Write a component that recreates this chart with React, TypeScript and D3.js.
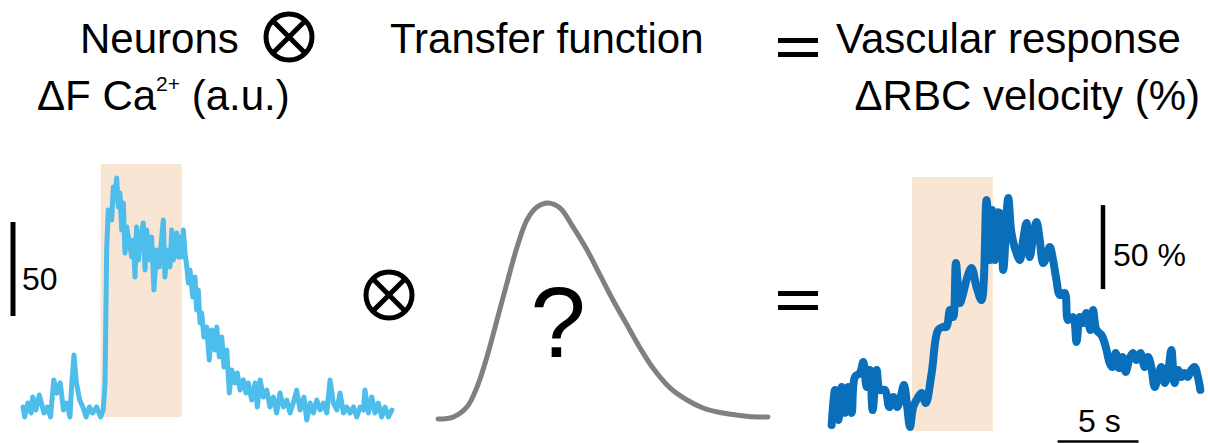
import React from "react";
import * as d3 from "d3";

// neuronal calcium trace, time in s relative to stimulus onset
const neuronTime = [
  -4.8, -4.7, -4.5, -4.3, -4.2, -4.0, -3.8, -3.5, -3.3, -3.1, -2.9, -2.7, -2.5, -2.3, -2.1, -1.9, -1.8, -1.65, -1.5,
  -1.3, -1.1, -0.9, -0.7, -0.5, -0.25, 0, 0.16, 0.27, 0.37, 0.47, 0.68, 0.78, 0.88, 0.99, 1.09, 1.19, 1.3, 1.4, 1.5,
  1.61, 1.81, 1.92, 2.02, 2.12, 2.22, 2.33, 2.43, 2.63, 2.74, 2.84, 3.05, 3.15, 3.29, 3.46, 3.62, 3.77, 3.87, 3.97,
  4.08, 4.28, 4.39, 4.49, 4.7, 4.8, 4.9, 5.01, 5.11, 5.21, 5.32, 5.42, 5.52, 5.69, 5.83, 5.93, 6.03, 6.14, 6.24, 6.38,
  6.55, 6.71, 6.86, 7.06, 7.17, 7.33, 7.48, 7.62, 7.79, 7.95, 8.1, 8.3, 8.44, 8.61, 8.81, 8.98, 9.12, 9.33, 9.54,
  9.68, 9.85, 10.05, 10.26, 10.46, 10.67, 10.87, 11.08, 11.29, 11.5, 11.7, 11.9, 12.11, 12.32, 12.56, 12.73, 12.94,
  13.14, 13.35, 13.56, 13.76, 13.97, 14.17, 14.38, 14.59, 14.79, 15.0, 15.2, 15.41, 15.62, 15.82, 16.03, 16.23,
  16.33, 16.54, 16.75, 16.95, 17.16, 17.36, 17.57, 17.78, 17.99,
];
const neuronDF = [
  1.6, -3.7, 3.7, -1.6, 6.9, 0, 8.0, -1.6, 1.6, -3.7, 16.0, 9.0, 14.4, 0, 3.7, -3.7, 12.2, 29.3, 14.4,
  5.3, 1.6, -3.7, 1.6, -1.6, 1.6, -3.7, 0, 14.4, 85.1, 106.4, 101.1, 118.6, 111.7, 123.4, 108.0, 115.4, 95.7, 110.1, 83.5,
  97.3, 86.7, 81.4, 90.4, 70.7, 97.3, 79.8, 88.8, 99.5, 74.5, 95.7, 79.8, 92.0, 63.8, 85.1, 76.1, 92.0, 101.1, 70.7,
  85.1, 76.1, 95.7, 79.8, 94.1, 81.4, 92.0, 81.4, 95.7, 83.5, 76.1, 67.6, 74.5, 60.1, 70.7, 53.2, 63.8, 46.3, 51.6, 38.8,
  44.1, 26.6, 42.6, 31.9, 44.1, 28.2, 38.8, 22.9, 31.9, 9.0, 21.3, 14.4, 19.7, 10.6, 16.0, 9.0, 14.4, 5.3, 14.4,
  1.6, 16.0, 6.9, 10.6, 1.6, 6.9, -1.6, 9.0, 1.6, 5.3, -1.6, 3.7, 10.6, 0, 6.9, -5.3, 3.7,
  -1.6, 5.3, 0, 3.7, -1.6, 16.0, 3.7, 0, 9.0, -1.6, 1.6, -1.6, 1.6, -3.7, 1.6, 0,
  10.6, -1.6, 6.9, -1.6, 3.7, -3.7, 1.6, -3.7, 0,
];

// red blood cell velocity change (%), time in s relative to stimulus onset
const rbcTime = [
  -4.96, -4.75, -4.55, -4.34, -4.14, -3.93, -3.72, -3.52, -3.21, -3.0, -2.8, -2.59, -2.43, -2.18, -1.98, -1.67, -1.4,
  -1.15, -0.91, -0.74, -0.49, -0.29, -0.12, 0.08, 0.39, 0.6, 0.86, 1.22, 1.62, 1.93, 2.14, 2.35, 2.55, 2.72, 2.96, 3.17,
  3.37, 3.68, 3.99, 4.3, 4.61, 4.81, 4.96, 5.12, 5.23, 5.43, 5.64, 5.95, 6.15, 6.46, 6.67, 6.87, 7.08, 7.28, 7.49, 7.7,
  7.9, 8.11, 8.31, 8.52, 8.72, 8.93, 9.14, 9.44, 9.65, 9.96, 10.17, 10.37, 10.58, 10.78, 11.03, 11.19, 11.4, 11.71,
  11.98, 12.22, 12.39, 12.59, 12.8, 13.01, 13.21, 13.46, 13.66, 13.87, 14.12, 14.38, 14.59, 14.79, 15.0, 15.2, 15.41,
  15.62, 15.82, 16.03, 16.23, 16.44, 16.65, 16.85, 17.05, 17.26, 17.47, 17.67, 17.82,
];
const rbcVelocity = [
  -14.9, 6.0, -11.9, 7.7, -7.7, 7.7, -7.7, 13.7, 16.1, 22.6, 7.7, 17.9, -6.0, 17.9, 6.0, 6.0, -4.2,
  1.8, -4.2, 0, 8.9, -4.2, -16.1, -4.2, 1.8, 4.2, -1.8, 16.1, 41.7, 43.5, 43.5, 53.6, 49.4, 81.5, 57.7, 63.7,
  71.4, 78.6, 67.3, 59.5, 119.0, 83.3, 113.1, 83.3, 111.3, 111.3, 77.4, 120.2, 99.4, 87.5, 83.3, 95.2, 105.4, 85.1, 97.0, 106.0,
  95.2, 81.5, 85.1, 91.1, 83.3, 71.4, 62.5, 63.7, 47.6, 49.4, 34.5, 49.4, 45.8, 51.8, 41.7, 53.6, 41.7, 38.7,
  31.5, 22.0, 19.6, 28.0, 19.0, 25.6, 16.7, 25.0, 28.0, 23.8, 28.0, 19.6, 25.6, 19.6, 7.7, 13.7, 19.6,
  10.1, 16.1, 29.8, 10.1, 17.9, 13.7, 16.1, 13.7, 17.9, 19.6, 13.7, 6.0,
];

// hypothetical transfer function (lag in s, normalised amplitude)
const kernelLag = [
  0, 0.93, 1.79, 2.41, 3.02, 3.64, 4.26, 4.88, 5.49, 6.11, 6.79, 7.53, 8.33, 9.2, 10.0, 10.8, 11.67, 12.47, 13.27,
  14.32, 15.37, 16.36, 17.41, 18.46, 19.44, 20.37,
];
const kernelAmp = [
  0, 0.009, 0.056, 0.148, 0.287, 0.458, 0.63, 0.796, 0.921, 0.981, 1.0, 0.977, 0.889, 0.782, 0.667, 0.551, 0.435,
  0.329, 0.236, 0.144, 0.088, 0.051, 0.03, 0.018, 0.01, 0.009,
];

const stimulus = [0, 5]; // s
const neuronBar = [50, 100]; // ΔF a.u. -> "50"
const rbcBar = [66, 116]; // % -> "50 %"
const timeBar = [9, 14]; // s -> "5 s"

const W = 1208;
const H = 443;
const FONT = "'Liberation Sans', Arial, Helvetica, sans-serif";

const xL = d3.scaleLinear().domain([-4.8, 18]).range([23, 392]);
const yL = d3.scaleLinear().domain([0, 50]).range([410, 316]);
const xR = d3.scaleLinear().domain([-5, 17.8]).range([831, 1200]);
const yR = d3.scaleLinear().domain([0, 50]).range([400, 316]);
const xK = d3.scaleLinear().domain([0, 20.37]).range([438, 768]);
const yK = d3.scaleLinear().domain([0, 1]).range([419, 203]);

const neuronLine = d3
  .line<number>()
  .x((_, i) => xL(neuronTime[i]))
  .y((d) => yL(d));
const rbcLine = d3
  .line<number>()
  .x((_, i) => xR(rbcTime[i]))
  .y((d) => yR(d))
  .curve(d3.curveCatmullRom.alpha(0.5));
const kernelLine = d3
  .line<number>()
  .x((_, i) => xK(kernelLag[i]))
  .y((d) => yK(d))
  .curve(d3.curveCatmullRom.alpha(0.5));

const Otimes = ({ cx, cy, r }: { cx: number; cy: number; r: number }) => {
  const k = r * Math.SQRT1_2;
  return (
    <g stroke="#000" strokeWidth={5} fill="none">
      <circle cx={cx} cy={cy} r={r} />
      <line x1={cx - k} y1={cy - k} x2={cx + k} y2={cy + k} />
      <line x1={cx - k} y1={cy + k} x2={cx + k} y2={cy - k} />
    </g>
  );
};

const Equals = ({ x, y }: { x: number; y: number }) => (
  <g fill="#000">
    <rect x={x} y={y} width={40} height={5} />
    <rect x={x} y={y + 14} width={40} height={5} />
  </g>
);

export default function App() {
  return (
    <svg
      width={W}
      height={H}
      style={{ position: "absolute", left: 0, top: 0, background: "#fff" }}
      fontFamily={FONT}
    >
      {/* header */}
      <g fontSize={42} fill="#000">
        <text x={80} y={53}>Neurons</text>
        <text x={37} y={110}>
          ΔF Ca<tspan fontSize={21} dy={-19}>2+</tspan>
          <tspan dy={19}> (a.u.)</tspan>
        </text>
        <text x={390} y={53}>Transfer function</text>
        <text x={836} y={53}>Vascular response</text>
        <text x={1200} y={110} textAnchor="end">ΔRBC velocity (%)</text>
      </g>
      <Otimes cx={289} cy={37} r={23} />
      <Equals x={778} y={38} />

      {/* neurons */}
      <rect
        x={xL(stimulus[0])}
        y={164}
        width={xL(stimulus[1]) - xL(stimulus[0])}
        height={253}
        fill="#f8e5d3"
      />
      <path
        d={neuronLine(neuronDF) ?? ""}
        fill="none"
        stroke="#4dbdec"
        strokeWidth={5}
        strokeLinejoin="round"
        strokeLinecap="round"
      />
      <line x1={13} x2={13} y1={yL(neuronBar[0])} y2={yL(neuronBar[1])} stroke="#000" strokeWidth={5} />
      <text x={22} y={290} fontSize={32}>50</text>

      <Otimes cx={389} cy={295} r={23} />

      {/* transfer function */}
      <path
        d={kernelLine(kernelAmp) ?? ""}
        fill="none"
        stroke="#808080"
        strokeWidth={5}
        strokeLinecap="round"
      />
      <text x={558} y={357} fontSize={100} textAnchor="middle">?</text>

      <Equals x={778} y={291} />

      {/* vascular response */}
      <rect
        x={xR(stimulus[0])}
        y={177}
        width={xR(stimulus[1]) - xR(stimulus[0])}
        height={254}
        fill="#f8e5d3"
      />
      <path
        d={rbcLine(rbcVelocity) ?? ""}
        fill="none"
        stroke="#0a6fbb"
        strokeWidth={8}
        strokeLinejoin="round"
        strokeLinecap="round"
      />
      <line x1={1103} x2={1103} y1={yR(rbcBar[0])} y2={yR(rbcBar[1])} stroke="#000" strokeWidth={4.5} />
      <text x={1113} y={266} fontSize={32}>50 %</text>
      <line x1={xR(timeBar[0])} x2={xR(timeBar[1])} y1={441.5} y2={441.5} stroke="#000" strokeWidth={2.5} />
      <text x={1078} y={432} fontSize={32}>5 s</text>
    </svg>
  );
}
